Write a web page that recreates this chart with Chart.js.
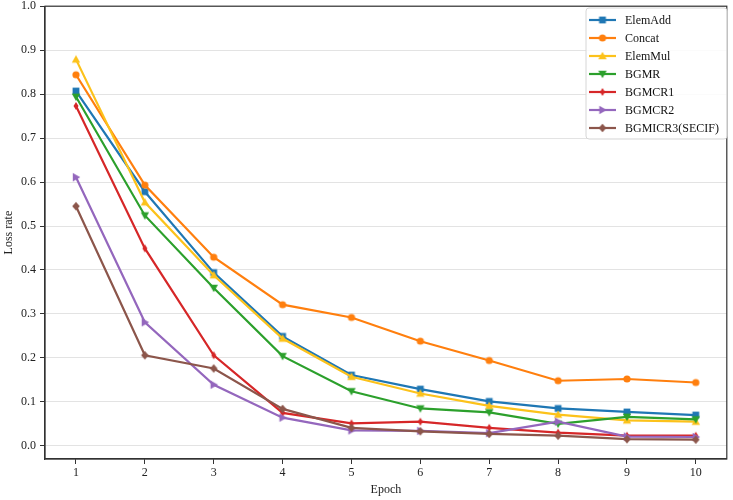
<!DOCTYPE html>
<html><head><meta charset="utf-8">
<script src="https://cdn.jsdelivr.net/npm/chart.js@4/dist/chart.umd.min.js"></script>
<style>html,body{margin:0;padding:0;background:#fff}#wrap{width:733px;height:500px;position:relative}</style>
</head><body><div id="wrap"><canvas id="c"></canvas></div>
<script>
const epochs = [1,2,3,4,5,6,7,8,9,10];
const seriesNames = ['ElemAdd','Concat','ElemMul','BGMR','BGMCR1','BGMCR2','BGMICR3(SECIF)'];
const elemAdd = [0.807,0.578,0.394,0.249,0.161,0.129,0.101,0.085,0.077,0.070];
const concat  = [0.844,0.593,0.429,0.321,0.292,0.238,0.194,0.148,0.152,0.144];
const elemMul = [0.879,0.554,0.388,0.244,0.157,0.119,0.091,0.071,0.058,0.055];
const bgmr    = [0.794,0.524,0.359,0.204,0.124,0.085,0.076,0.050,0.066,0.060];
const bgmcr1  = [0.773,0.449,0.206,0.075,0.051,0.055,0.041,0.030,0.023,0.023];
const bgmcr2  = [0.611,0.281,0.139,0.064,0.035,0.034,0.029,0.055,0.021,0.020];
const bgmicr3 = [0.545,0.206,0.176,0.084,0.041,0.033,0.027,0.023,0.015,0.014];
const xTicks = [1,2,3,4,5,6,7,8,9,10];
const yTicks = [0,0.1,0.2,0.3,0.4,0.5,0.6,0.7,0.8,0.9,1.0];

const seriesValues = [elemAdd, concat, elemMul, bgmr, bgmcr1, bgmcr2, bgmicr3];
const colors = ['#1f77b4','#ff7f0e','#fcc21b','#2ca02c','#d62728','#9467bd','#8c564b'];
const shapes = ['square','circle','triUp','triDown','thinDiamond','triRight','diamond'];
const FONT = '"Liberation Serif","Times New Roman",serif';

function makeMarker(shape, color){
  const s = 12, c = s/2;
  const cv = document.createElement('canvas');
  cv.width = s; cv.height = s;
  const g = cv.getContext('2d');
  g.fillStyle = color; g.strokeStyle = color; g.lineWidth = 1;
  g.beginPath();
  const poly = pts => { g.moveTo(c+pts[0][0], c+pts[0][1]); for (let i=1;i<pts.length;i++) g.lineTo(c+pts[i][0], c+pts[i][1]); g.closePath(); };
  if (shape==='square') g.rect(c-3.4,c-3.4,6.8,6.8);
  else if (shape==='circle') g.arc(c,c,3.6,0,Math.PI*2);
  else if (shape==='triUp') poly([[0,-4.3],[4.2,3.2],[-4.2,3.2]]);
  else if (shape==='triDown') poly([[0,4.3],[4.2,-3.2],[-4.2,-3.2]]);
  else if (shape==='triRight') poly([[4.3,0],[-3.2,-4.2],[-3.2,4.2]]);
  else if (shape==='thinDiamond') poly([[0,-4],[2.5,0],[0,4],[-2.5,0]]);
  else if (shape==='diamond') poly([[0,-4.2],[3.8,0],[0,4.2],[-3.8,0]]);
  g.fill();
  return cv;
}
const markers = shapes.map((s,i)=>makeMarker(s, colors[i]));

const datasets = seriesNames.map((name,i)=>({
  label: name,
  data: epochs.map((e,j)=>({x:e, y:seriesValues[i][j]})),
  borderColor: colors[i],
  backgroundColor: colors[i],
  borderWidth: 2.2,
  pointStyle: markers[i],
  pointRadius: 4,
  tension: 0,
  order: seriesNames.length - i
}));

const framePlugin = {
  id:'frame',
  afterDraw(chart){
    const {ctx, chartArea:a} = chart;
    ctx.save();
    ctx.strokeStyle = '#333'; ctx.lineWidth = 1.2;
    ctx.strokeRect(a.left, a.top, a.right-a.left, a.bottom-a.top);
    // legend
    const bx = 586, by = 8, bw = 141, bh = 131, r = 3;
    ctx.fillStyle = 'rgba(255,255,255,0.85)';
    ctx.strokeStyle = '#d6d6d6'; ctx.lineWidth = 1;
    ctx.beginPath();
    ctx.moveTo(bx+r,by); ctx.lineTo(bx+bw-r,by); ctx.quadraticCurveTo(bx+bw,by,bx+bw,by+r);
    ctx.lineTo(bx+bw,by+bh-r); ctx.quadraticCurveTo(bx+bw,by+bh,bx+bw-r,by+bh);
    ctx.lineTo(bx+r,by+bh); ctx.quadraticCurveTo(bx,by+bh,bx,by+bh-r);
    ctx.lineTo(bx,by+r); ctx.quadraticCurveTo(bx,by,bx+r,by);
    ctx.closePath(); ctx.fill(); ctx.stroke();
    ctx.font = '12px ' + FONT;
    ctx.textBaseline = 'middle'; ctx.textAlign = 'left';
    seriesNames.forEach((name,i)=>{
      const y = 20 + i*18;
      ctx.strokeStyle = colors[i]; ctx.lineWidth = 2.2;
      ctx.beginPath(); ctx.moveTo(589,y); ctx.lineTo(616,y); ctx.stroke();
      const m = markers[i];
      ctx.drawImage(m, 602.5 - m.width/2, y - m.height/2);
      ctx.fillStyle = '#111';
      ctx.fillText(name, 625, y+0.5);
    });
    ctx.restore();
  }
};

new Chart(document.getElementById('c'), {
  type:'line',
  data:{ datasets },
  options:{
    responsive:true, maintainAspectRatio:false, animation:false,
    devicePixelRatio: 1,
    layout:{ padding:{ left:0, right:2, top:5, bottom:0 } },
    plugins:{ legend:{display:false}, tooltip:{enabled:false} },
    scales:{
      x:{
        type:'linear', min:0.55, max:10.45,
        afterBuildTicks: s => { s.ticks = xTicks.map(v=>({value:v})); },
        afterFit: s => { s.height = 41; s.paddingLeft = 0; s.paddingRight = 0; },
        grid:{ drawOnChartArea:false, tickLength:5, tickColor:'#333', tickWidth:1 },
        border:{ color:'#333', width:1.2 },
        ticks:{ font:{family:FONT, size:12}, color:'#222', padding:2, maxRotation:0,
                callback: v => String(v) },
        title:{ display:true, text:'Epoch', font:{family:FONT, size:12}, color:'#222', padding:{top:0,bottom:3} }
      },
      y:{
        type:'linear', min:-0.03, max:1.0,
        afterBuildTicks: s => { s.ticks = yTicks.map(v=>({value:v})); },
        afterFit: s => { s.width = 45; s.paddingTop = 0; s.paddingBottom = 0; },
        grid:{ color:'#e3e3e3', lineWidth:1, tickLength:5, tickColor:'#333', tickWidth:1 },
        border:{ color:'#333', width:1.2 },
        ticks:{ font:{family:FONT, size:12}, color:'#222', padding:4,
                callback: v => Number(v).toFixed(1) },
        title:{ display:true, text:'Loss rate', font:{family:FONT, size:12}, color:'#222', padding:{top:2,bottom:0} }
      }
    }
  },
  plugins:[framePlugin]
});
</script>
</body></html>
